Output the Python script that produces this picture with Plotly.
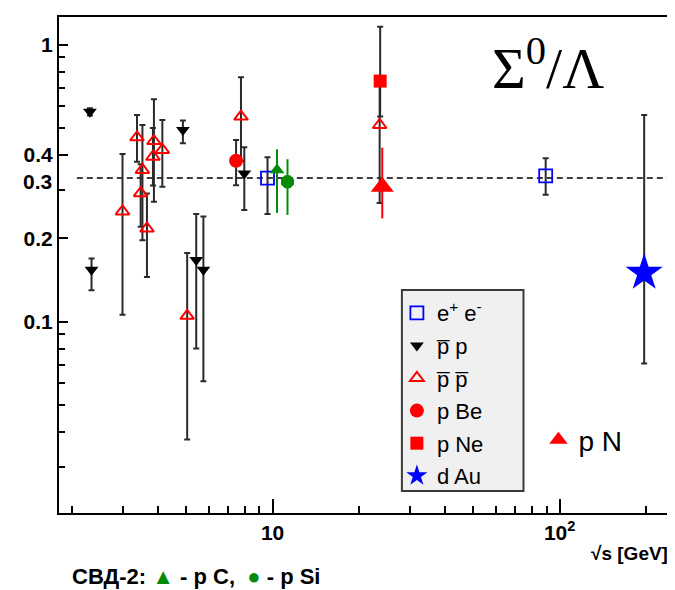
import plotly.graph_objects as go

# ---------------- data ----------------
ee_x = [9.6, 89.4]
ee_y = [0.33, 0.336]
ee_hi = [0.392, 0.389]
ee_lo = [0.245, 0.287]

pbarp_x = [2.31, 2.34, 4.87, 5.42, 5.74, 7.97]
pbarp_y = [0.573, 0.154, 0.492, 0.167, 0.154, 0.343]
pbarp_hi = [0.59, 0.169, 0.532, 0.245, 0.240, 0.426]
pbarp_lo = [0.555, 0.130, 0.441, 0.080, 0.061, 0.253]

pp_x = [3.0, 3.37, 3.47, 3.52, 3.65, 3.83, 3.86, 4.13, 5.04, 7.76, 23.6]
pp_y = [0.25, 0.463, 0.291, 0.353, 0.217, 0.394, 0.449, 0.417, 0.105, 0.55, 0.513]
pp_hi = [0.403, 0.557, 0.37, 0.513, 0.29, 0.50, 0.635, 0.535, 0.177, 0.763, 0.74]
pp_lo = [0.106, 0.378, 0.22, 0.197, 0.145, 0.31, 0.271, 0.307, 0.0376, 0.38, 0.268]

pbe_x, pbe_y, pbe_hi, pbe_lo = [7.46], [0.381], [0.453], [0.311]
pne_x, pne_y, pne_hi, pne_lo = [23.7], [0.739], [1.16], [0.55]
dau_x, dau_y, dau_hi, dau_lo = [197], [0.15], [0.557], [0.0707]
pn_x, pn_y, pn_hi, pn_lo = [24.1], [0.307], [0.425], [0.236]
pc_x, pc_y, pc_hi, pc_lo = [10.36], [0.353], [0.419], [0.247]
psi_x, psi_y, psi_hi, psi_lo = [11.27], [0.32], [0.386], [0.243]

ref_x = [2.08, 242]
ref_y = [0.33, 0.33]

x_major = [10, 100]
x_major_text = ["10", "10<sup>2</sup>"]
x_minor = [2, 3, 4, 5, 6, 7, 8, 9, 20, 30, 40, 50, 60, 70, 80, 90, 200]
y_major = [0.1, 0.2, 0.4, 1]
y_major_text = ["0.1", "0.2", "0.4", "1"]
y_minor = [0.03, 0.04, 0.05, 0.06, 0.07, 0.08, 0.09, 0.3, 0.5, 0.6, 0.7, 0.8, 0.9]

SANS = "Liberation Sans, Arial, sans-serif"
SERIF = "Liberation Serif, Times New Roman, serif"
RED = "#ff0000"
BLUE = "#0000ff"
GREEN = "#078a07"
BAR = "#2b2b2b"


def err(y, hi, lo, color=BAR, width=3, thickness=2):
    return dict(type="data", symmetric=False,
                array=[h - v for h, v in zip(hi, y)],
                arrayminus=[v - l for v, l in zip(y, lo)],
                color=color, width=width, thickness=thickness)


fig = go.Figure()

fig.add_trace(go.Scatter(x=ref_x, y=ref_y, mode="lines", showlegend=False,
                         line=dict(color="black", width=1.6, dash="6px,4px"),
                         hoverinfo="skip"))

fig.add_trace(go.Scatter(
    x=pbarp_x, y=pbarp_y, mode="markers", name="p\u0305 p",
    legendgroup="g2", legendrank=2,
    marker=dict(symbol="triangle-down", size=12, color="black"),
    error_y=err(pbarp_y, pbarp_hi, pbarp_lo)))

fig.add_trace(go.Scatter(
    x=pp_x, y=pp_y, mode="markers", name="p\u0305 p\u0305",
    legendgroup="g3", legendrank=3,
    marker=dict(symbol="triangle-up-open", size=12, color=RED,
                line=dict(width=2, color=RED)),
    error_y=err(pp_y, pp_hi, pp_lo)))

fig.add_trace(go.Scatter(
    x=pbe_x, y=pbe_y, mode="markers", name="p Be",
    legendgroup="g4", legendrank=4,
    marker=dict(symbol="circle", size=14, color=RED),
    error_y=err(pbe_y, pbe_hi, pbe_lo)))

fig.add_trace(go.Scatter(
    x=pne_x, y=pne_y, mode="markers", name="p Ne",
    legendgroup="g5", legendrank=5,
    marker=dict(symbol="square", size=13, color=RED),
    error_y=err(pne_y, pne_hi, pne_lo)))

fig.add_trace(go.Scatter(
    x=ee_x, y=ee_y, mode="markers", name="e<sup>+</sup> e<sup>-</sup>",
    legendgroup="g1", legendrank=1,
    marker=dict(symbol="square-open", size=13, color=BLUE,
                line=dict(width=1.8, color=BLUE)),
    error_y=err(ee_y, ee_hi, ee_lo)))

fig.add_trace(go.Scatter(
    x=pc_x, y=pc_y, mode="markers", name="p C", showlegend=False,
    marker=dict(symbol="triangle-up", size=13, color=GREEN),
    error_y=err(pc_y, pc_hi, pc_lo, color=GREEN, width=0, thickness=2)))

fig.add_trace(go.Scatter(
    x=psi_x, y=psi_y, mode="markers", name="p Si", showlegend=False,
    marker=dict(symbol="octagon", size=14, color=GREEN),
    error_y=err(psi_y, psi_hi, psi_lo, color=GREEN, width=0, thickness=2)))

fig.add_trace(go.Scatter(
    x=pn_x, y=pn_y, mode="markers", name="p N", legend="legend2",
    marker=dict(symbol="triangle-up", size=20, color=RED),
    error_y=err(pn_y, pn_hi, pn_lo, color=RED, width=0, thickness=2)))

fig.add_trace(go.Scatter(
    x=dau_x, y=dau_y, mode="markers", name="d Au",
    legendgroup="g6", legendrank=6,
    marker=dict(symbol="star", size=28, color=BLUE),
    error_y=err(dau_y, dau_hi, dau_lo)))

axis_common = dict(type="log", showline=True, linecolor="black", linewidth=2,
                   mirror=True, ticks="inside", tickcolor="black", tickwidth=1.5,
                   showgrid=False, zeroline=False,
                   tickfont=dict(family=SANS, size=21, color="black", weight="bold"))

fig.update_xaxes(**axis_common, range=[0.2559, 2.3844],
                 tickmode="array", tickvals=x_major, ticktext=x_major_text, ticklen=14,
                 minor=dict(tickvals=x_minor, ticks="inside", ticklen=7,
                            tickwidth=1.5, tickcolor="black", showgrid=False))
fig.update_yaxes(**axis_common, range=[-1.6906, 0.1],
                 tickmode="array", tickvals=y_major, ticktext=y_major_text, ticklen=9,
                 minor=dict(tickvals=y_minor, ticks="inside", ticklen=6,
                            tickwidth=1.5, tickcolor="black", showgrid=False))

# legend box background
fig.add_shape(type="rect", xref="paper", yref="paper",
              x0=0.5612, x1=0.7602, y0=0.0444, y1=0.4496,
              fillcolor="#f0f0f0", line=dict(color="#3a3a3a", width=2), layer="below")

# the page adds an 8px body margin, so the figure is 8px smaller each way
fig.update_layout(
    width=667, height=582,
    margin=dict(l=51, r=3, t=9, b=77),
    paper_bgcolor="white", plot_bgcolor="white",
    font=dict(family=SANS, color="black"),
    legend=dict(x=0.553, y=0.4456, xanchor="left", yanchor="top",
                bgcolor="rgba(0,0,0,0)", borderwidth=0,
                font=dict(family=SANS, size=22, color="black"),
                tracegroupgap=1, traceorder="grouped"),
    legend2=dict(x=0.7847, y=0.147, xanchor="left", yanchor="middle",
                 bgcolor="rgba(0,0,0,0)", borderwidth=0,
                 font=dict(family=SANS, size=28, color="black")),
    annotations=[
        dict(text="\u03a3<sup>0</sup>/\u039b", xref="paper", yref="paper",
             x=0.80, y=0.905, xanchor="center", yanchor="middle", showarrow=False,
             font=dict(family=SERIF, size=58, color="black")),
        dict(text="0.3", xref="paper", yref="y", x=0, y=-0.4815,
             xanchor="right", yanchor="middle", xshift=-5, yshift=-3, showarrow=False,
             font=dict(family=SANS, size=21, color="black", weight="bold")),
        dict(text="\u221as [GeV]", xref="paper", yref="paper", x=1.0, y=-0.081,
             xanchor="right", yanchor="middle", showarrow=False,
             font=dict(family=SANS, size=19, color="black", weight="bold")),
        dict(text="СВД-2: <span style='color:%s'>\u25b2</span> - p C,  "
                  "<span style='color:%s'>\u25cf</span> - p Si" % (GREEN, GREEN),
             xref="paper", yref="paper", x=0.018, y=-0.129,
             xanchor="left", yanchor="middle", showarrow=False,
             font=dict(family=SANS, size=22, color="black", weight="bold")),
    ],
)

fig.write_html("out.html")
